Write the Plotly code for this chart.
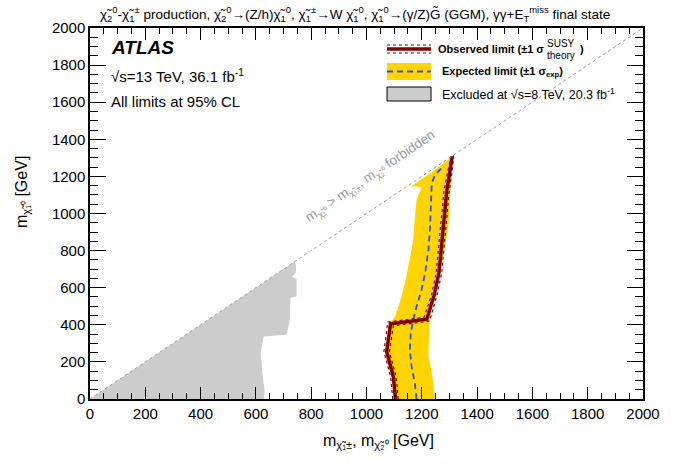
import plotly.graph_objects as go

# ---------------- data (GeV) ----------------
diag_x = [0, 2000]
diag_y = [0, 2000]

# 8 TeV excluded region (grey)
grey_x = [0, 740, 745, 745, 730, 747, 747, 725, 722, 711, 628, 617, 625, 632, 628, 0]
grey_y = [0, 740, 728, 680, 660, 645, 553, 545, 420, 347, 337, 250, 120, 40, 0, 0]

# expected +-1 sigma band (yellow): left edge bottom->top, then right edge top->bottom
band_x = [1100, 1092, 1070, 1082, 1103, 1123, 1139, 1163, 1169, 1175, 1181, 1199, 1163, 1230, 1312,
          1308, 1302, 1296, 1266, 1236, 1227, 1224, 1230, 1242, 1248]
band_y = [0, 120, 255, 405, 444, 534, 624, 803, 860, 983, 1073, 1141, 1148, 1215, 1310,
          1200, 1109, 929, 678, 498, 408, 228, 192, 84, 0]

# expected limit
exp_x = [1181, 1175, 1163, 1157, 1160, 1169, 1181, 1199, 1212, 1224, 1230, 1233, 1236, 1248, 1266, 1275]
exp_y = [0, 84, 174, 264, 354, 426, 498, 588, 678, 803, 929, 1037, 1163, 1208, 1234, 1250]

# observed limit
obs_x = [1105, 1097, 1073, 1087, 1218, 1245, 1262, 1272, 1280, 1290, 1302, 1310]
obs_y = [0, 120, 255, 405, 430, 560, 680, 840, 980, 1120, 1230, 1308]

# observed +-1 sigma theory
thup_x = [1115, 1107, 1083, 1097, 1228, 1255, 1272, 1282, 1290, 1299, 1310, 1315]
thup_y = [0, 120, 255, 395, 420, 560, 680, 840, 980, 1120, 1230, 1313]
thdn_x = [1095, 1087, 1063, 1077, 1208, 1235, 1252, 1262, 1270, 1280, 1294, 1305]
thdn_y = [0, 120, 255, 415, 440, 560, 680, 840, 980, 1120, 1230, 1303]

x_ticks = [0, 200, 400, 600, 800, 1000, 1200, 1400, 1600, 1800, 2000]
y_ticks = [0, 200, 400, 600, 800, 1000, 1200, 1400, 1600, 1800, 2000]

RED = "#800000"
YELLOW = "#FFD400"
BLUE = "#2E4FE0"
GREY = "#CCCCCC"
FONT = "Liberation Sans, Arial, sans-serif"

fig = go.Figure()
fig.add_trace(go.Scatter(x=grey_x, y=grey_y, fill="toself", fillcolor=GREY, mode="none",
                         hoverinfo="skip", showlegend=False))
fig.add_trace(go.Scatter(x=band_x, y=band_y, fill="toself", fillcolor=YELLOW, mode="none",
                         hoverinfo="skip", showlegend=False))
fig.add_trace(go.Scatter(x=exp_x, y=exp_y, mode="lines",
                         line=dict(color=BLUE, width=1.8, dash="6px,4px"), showlegend=False))
fig.add_trace(go.Scatter(x=thup_x, y=thup_y, mode="lines",
                         line=dict(color=RED, width=1.2, dash="dot"), showlegend=False))
fig.add_trace(go.Scatter(x=thdn_x, y=thdn_y, mode="lines",
                         line=dict(color=RED, width=1.2, dash="dot"), showlegend=False))
fig.add_trace(go.Scatter(x=obs_x, y=obs_y, mode="lines",
                         line=dict(color=RED, width=3.5), showlegend=False))
fig.add_trace(go.Scatter(x=diag_x, y=diag_y, mode="lines",
                         line=dict(color="#999999", width=1, dash="dot"), showlegend=False))

# plot area on screen: x 90..643, y 28..399 (page body margin removed below)
SL, SR, ST, SB = 90, 643, 28, 399
L, T = SL, ST
R = 689 - SR
B = 468 - SB
PW, PH = SR - SL, SB - ST


def px(xp):
    return (xp - SL) / PW


def py(yp):
    return (SB - yp) / PH


shapes = []
# legend samples
shapes.append(dict(type="line", xref="paper", yref="paper", x0=px(387), x1=px(431), y0=py(45), y1=py(45),
                   line=dict(color=RED, width=1.2, dash="dot")))
shapes.append(dict(type="line", xref="paper", yref="paper", x0=px(387), x1=px(431), y0=py(53), y1=py(53),
                   line=dict(color=RED, width=1.2, dash="dot")))
shapes.append(dict(type="line", xref="paper", yref="paper", x0=px(387), x1=px(431), y0=py(49), y1=py(49),
                   line=dict(color=RED, width=3.5)))
shapes.append(dict(type="rect", xref="paper", yref="paper", x0=px(387), x1=px(431), y0=py(80), y1=py(63),
                   fillcolor=YELLOW, line=dict(width=0)))
shapes.append(dict(type="line", xref="paper", yref="paper", x0=px(387), x1=px(431), y0=py(71.5), y1=py(71.5),
                   line=dict(color=BLUE, width=1.8, dash="6px,4px")))
shapes.append(dict(type="rect", xref="paper", yref="paper", x0=px(387), x1=px(431), y0=py(101), y1=py(87),
                   fillcolor=GREY, line=dict(color="black", width=1)))

chi = "χ\u0303"


def txt(x, y, text, size, xanchor="left", color="black", angle=0, xref="paper", yref="paper"):
    return dict(xref=xref, yref=yref, x=x, y=y, xanchor=xanchor, yanchor="middle", showarrow=False,
                textangle=angle, font=dict(size=size, family=FONT, color=color), text=text)


ann = []
ann.append(txt(px(355), py(14),
               (f"{chi}<sub>2</sub><sup>0</sup>-{chi}<sub>1</sub><sup>±</sup> production, "
                f"{chi}<sub>2</sub><sup>0</sup>→(Z/h){chi}<sub>1</sub><sup>0</sup>, "
                f"{chi}<sub>1</sub><sup>±</sup>→W {chi}<sub>1</sub><sup>0</sup>, "
                f"{chi}<sub>1</sub><sup>0</sup>→(γ/Z)G\u0303 (GGM), γγ+E<sub>T</sub><sup>miss</sup> final state"),
               13.5, xanchor="center"))
ann.append(txt(px(109), py(47), "<b><i>ATLAS</i></b>", 19))
ann.append(txt(px(109), py(75), "√s=13 TeV, 36.1 fb<sup>-1</sup>", 15))
ann.append(txt(px(109), py(101), "All limits at 95% CL", 15))
# legend texts
ann.append(txt(px(546), py(49), "<b>Observed limit (±1 σ</b>", 11, xanchor="right"))
ann.append(txt(px(545), py(43.5), "SUSY", 10))
ann.append(txt(px(545), py(55.5), "theory", 10))
ann.append(txt(px(578), py(49), "<b>)</b>", 11))
ann.append(txt(px(440), py(72), "<b>Expected limit (±1 σ<sub>exp</sub>)</b>", 11))
ann.append(txt(px(440), py(94), "Excluded at √s=8 TeV, 20.3 fb<sup>-1</sup>", 12.5))
ann.append(txt(1015, 1200, f"m<sub>{chi}₁⁰</sub> > m<sub>{chi}₁±</sub>, m<sub>{chi}₂⁰</sub> forbidden",
               13.5, xanchor="center", color="#999999", angle=-33.9, xref="x", yref="y"))
ann.append(txt(px(22), py(192), f"m<sub>{chi}₁⁰</sub> [GeV]", 16, xanchor="center", angle=-90))
ann.append(txt(px(378), py(442), f"m<sub>{chi}₁±</sub>, m<sub>{chi}₂⁰</sub> [GeV]", 16, xanchor="center"))

axis_common = dict(range=[0, 2000], showgrid=False, zeroline=False, showline=True, linecolor="black",
                   linewidth=1.5, ticks="inside", mirror="allticks", tickcolor="black", tickwidth=1.2,
                   tickfont=dict(size=15, family=FONT, color="black"))
fig.update_xaxes(**axis_common, tickvals=x_ticks, ticktext=[str(v) for v in x_ticks], ticklen=12,
                 minor=dict(dtick=50, ticks="inside", ticklen=6, tickcolor="black", tickwidth=1))
fig.update_yaxes(**axis_common, tickvals=y_ticks, ticktext=[str(v) for v in y_ticks], ticklen=16,
                 minor=dict(dtick=50, ticks="inside", ticklen=8, tickcolor="black", tickwidth=1))

fig.update_layout(width=689, height=468, margin=dict(l=L, r=R, t=T, b=B, autoexpand=False),
                  plot_bgcolor="white", paper_bgcolor="white", shapes=shapes, annotations=ann,
                  font=dict(family=FONT), hovermode=False)
fig.write_html("out.html", config={"displayModeBar": False},
               post_script="document.body.style.margin='0';document.body.style.overflow='hidden';")
